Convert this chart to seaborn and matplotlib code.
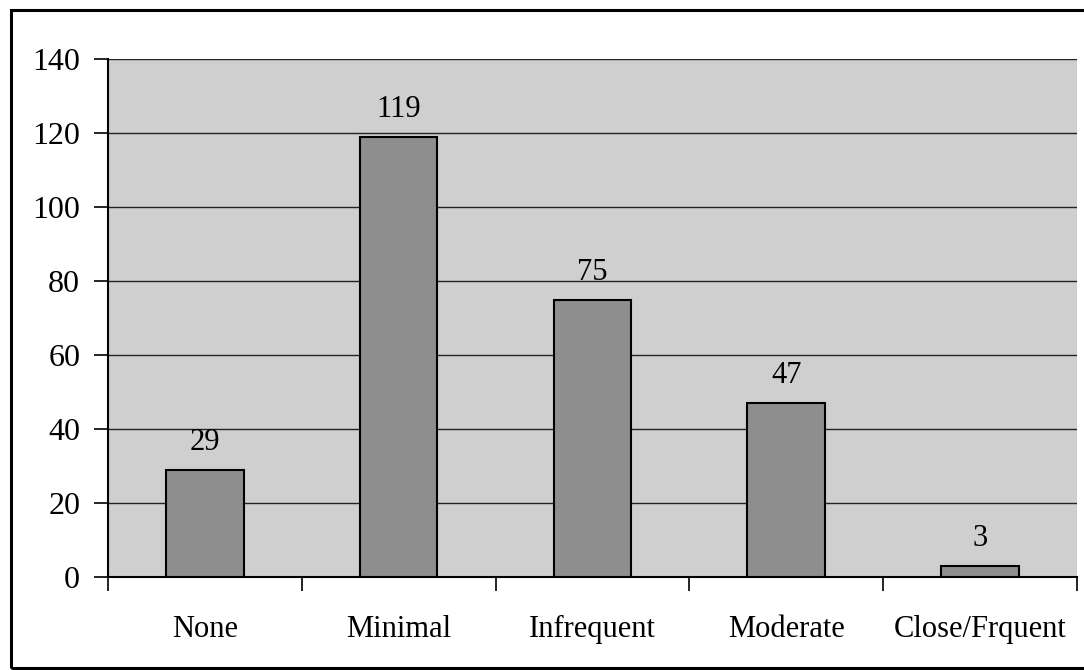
import matplotlib
matplotlib.use("Agg")
import matplotlib.pyplot as plt
import seaborn as sns
import pandas as pd
from matplotlib.patches import Rectangle

# data
categories = ["None", "Minimal", "Infrequent", "Moderate", "Close/Frquent"]
counts = [29, 119, 75, 47, 3]

df = pd.DataFrame({"Contact": categories, "Count": counts})

sns.set_style("white")
plt.rcParams["font.family"] = ["Liberation Serif", "DejaVu Serif"]
plt.rcParams["text.color"] = "black"
plt.rcParams["xtick.color"] = "black"
plt.rcParams["ytick.color"] = "black"

fig = plt.figure(figsize=(10.84, 6.7), dpi=100)
ax = fig.add_axes([0.0996, 0.1388, 0.8939, 0.7731])

# outer chart border
fig.patches.append(Rectangle((0.0101, 0.003), 0.995, 0.982, transform=fig.transFigure,
                             fill=False, edgecolor="black", linewidth=2.2))

ax.set_facecolor("#cfcfcf")
sns.barplot(data=df, x="Contact", y="Count", color="#8e8e8e", width=0.4,
            edgecolor="black", linewidth=1.5, saturation=1, ax=ax, zorder=3)

for i, v in enumerate(counts):
    ax.text(i, v + 3.5, str(v), ha="center", va="bottom", fontsize=22, color="black", zorder=4)

ax.set_ylim(0, 140)
ax.set_xlim(-0.5, len(categories) - 0.5)
ax.set_yticks(range(0, 141, 20))
ax.yaxis.grid(True, color="#222222", linewidth=1.0)
ax.set_axisbelow(True)

# category boundary ticks, labels at centers
ax.set_xticks([i - 0.5 for i in range(len(categories) + 1)])
ax.set_xticklabels([])
ax.set_xticks(range(len(categories)), minor=True)
ax.set_xticklabels(categories, minor=True)
ax.tick_params(axis="x", which="major", length=10, width=1.2, direction="out", bottom=True)
ax.tick_params(axis="x", which="minor", length=0, pad=27, labelsize=22)
ax.tick_params(axis="y", length=10, width=1.2, direction="out", left=True, pad=10, labelsize=23)

ax.set_xlabel("")
ax.set_ylabel("")
for side in ["top", "right"]:
    ax.spines[side].set_visible(False)
ax.spines["left"].set_color("black")
ax.spines["bottom"].set_color("black")
ax.spines["left"].set_linewidth(1.5)
ax.spines["bottom"].set_linewidth(1.5)

plt.savefig("out.png", dpi=100)
